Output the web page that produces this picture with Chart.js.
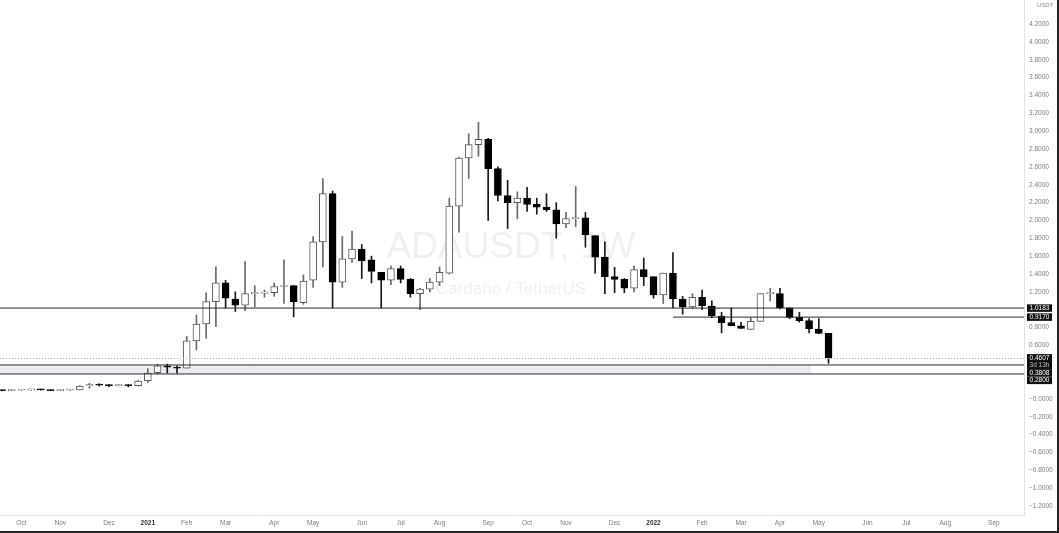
<!DOCTYPE html>
<html>
<head>
<meta charset="utf-8">
<title>ADAUSDT 1W</title>
<script src="https://cdn.jsdelivr.net/npm/chart.js@4.4.1/dist/chart.umd.min.js"></script>
<style>
html, body { margin: 0; padding: 0; background: #fff; }
#wrap { width: 1057px; height: 531px; border-right: 2px solid #222; border-bottom: 2px solid #222; }
</style>
</head>
<body>
<div id="wrap"><canvas id="chart" width="1057" height="531"></canvas></div>
<script>
// weekly candles, first week starts 2020-09-21 (index 0)
const open = [0.097, 0.093, 0.100, 0.101, 0.104, 0.101, 0.094, 0.100, 0.101, 0.145,
  0.160, 0.155, 0.150, 0.156, 0.150, 0.205, 0.295, 0.370, 0.350, 0.345,
  0.650, 0.840, 1.090, 1.300, 1.120, 1.050, 1.180, 1.185, 1.190, 1.260,
  1.270, 1.080, 1.330, 1.760, 2.300, 1.310, 1.570, 1.680, 1.560, 1.420,
  1.330, 1.460, 1.340, 1.180, 1.230, 1.310, 1.410, 2.160, 2.700, 2.850,
  2.910, 2.580, 2.280, 2.200, 2.250, 2.180, 2.150, 2.120, 1.960, 2.020,
  2.030, 1.830, 1.590, 1.370, 1.340, 1.240, 1.450, 1.370, 1.165, 1.410,
  1.120, 1.030, 1.140, 1.040, 0.930, 0.855, 0.820, 0.780, 0.870, 1.180,
  1.180, 1.020, 0.915, 0.877, 0.780, 0.735];
const high = [0.102, 0.104, 0.106, 0.108, 0.110, 0.104, 0.103, 0.106, 0.150, 0.176,
  0.170, 0.162, 0.162, 0.162, 0.210, 0.340, 0.390, 0.390, 0.370, 0.700,
  0.940, 1.190, 1.480, 1.330, 1.200, 1.540, 1.270, 1.220, 1.300, 1.560,
  1.270, 1.390, 1.820, 2.470, 2.330, 1.820, 1.880, 1.730, 1.600, 1.420,
  1.490, 1.490, 1.350, 1.240, 1.350, 1.480, 2.250, 2.710, 2.970, 3.100,
  2.920, 2.600, 2.450, 2.320, 2.370, 2.250, 2.300, 2.200, 2.090, 2.380,
  2.090, 1.830, 1.760, 1.475, 1.350, 1.490, 1.580, 1.370, 1.410, 1.640,
  1.150, 1.180, 1.220, 1.100, 0.970, 1.020, 0.860, 0.910, 1.180, 1.240,
  1.240, 1.020, 0.970, 0.900, 0.900, 0.735];
const low = [0.090, 0.090, 0.096, 0.097, 0.098, 0.093, 0.091, 0.097, 0.100, 0.120,
  0.145, 0.138, 0.145, 0.135, 0.145, 0.185, 0.280, 0.290, 0.290, 0.345,
  0.550, 0.680, 0.810, 1.020, 0.980, 0.990, 1.030, 1.140, 1.150, 1.070,
  0.920, 1.060, 1.250, 1.480, 1.020, 1.250, 1.530, 1.350, 1.300, 1.020,
  1.280, 1.300, 1.140, 1.000, 1.200, 1.270, 1.400, 1.870, 2.470, 2.720,
  2.000, 2.220, 1.910, 2.020, 2.100, 2.070, 2.100, 1.800, 1.920, 1.930,
  1.700, 1.410, 1.180, 1.190, 1.190, 1.200, 1.270, 1.130, 1.070, 1.020,
  0.950, 1.010, 1.000, 0.910, 0.740, 0.820, 0.790, 0.780, 0.870, 1.100,
  1.010, 0.900, 0.860, 0.740, 0.730, 0.400];
const close = [0.093, 0.100, 0.101, 0.104, 0.101, 0.094, 0.100, 0.101, 0.145, 0.160,
  0.155, 0.150, 0.156, 0.150, 0.200, 0.290, 0.370, 0.355, 0.345, 0.650,
  0.840, 1.090, 1.300, 1.130, 1.050, 1.180, 1.185, 1.190, 1.260, 1.270,
  1.090, 1.320, 1.760, 2.300, 1.310, 1.570, 1.680, 1.550, 1.430, 1.330,
  1.460, 1.340, 1.180, 1.230, 1.310, 1.420, 2.160, 2.700, 2.850, 2.910,
  2.580, 2.280, 2.200, 2.250, 2.180, 2.150, 2.120, 1.960, 2.020, 2.030,
  1.840, 1.590, 1.370, 1.340, 1.240, 1.450, 1.370, 1.165, 1.410, 1.120,
  1.030, 1.140, 1.045, 0.930, 0.855, 0.820, 0.790, 0.870, 1.180, 1.185,
  1.020, 0.915, 0.877, 0.785, 0.735, 0.4607];

// time axis labels (week index of first bar in each month)
const tickWeeks = [2, 6, 11, 15, 19, 23, 28, 32, 37, 41, 45, 50, 54, 58, 63, 67, 72, 76, 80, 84, 89, 93, 97, 102];
const tickLabels = ['Oct', 'Nov', 'Dec', '2021', 'Feb', 'Mar', 'Apr', 'May', 'Jun', 'Jul', 'Aug', 'Sep',
  'Oct', 'Nov', 'Dec', '2022', 'Feb', 'Mar', 'Apr', 'May', 'Jun', 'Jul', 'Aug', 'Sep'];
const priceTicks = [4.2, 4.0, 3.8, 3.6, 3.4, 3.2, 3.0, 2.8, 2.6, 2.4, 2.2, 2.0, 1.8, 1.6, 1.4, 1.2, 1.0,
  0.8, 0.6, 0.4, 0.2, 0, -0.2, -0.4, -0.6, -0.8, -1.0, -1.2];

// horizontal levels drawn on the chart
const levelPrices = [1.0183, 0.917, 0.3808, 0.28];
const levelStartWeek = [-1, 69, -1, -1];
const zonePrices = [0.3808, 0.28];
const zoneEndWeek = 83.2;
const lastPrice = 0.4607;
const countdown = '3d 13h';

const isUp = close.map((c, i) => c >= open[i]);
const weekIdx = open.map((_, i) => i);

const levelSets = levelPrices.map((p, i) => ({
  type: 'line',
  data: [{ x: levelStartWeek[i], y: p }, { x: 110, y: p }],
  borderColor: '#2b2b2b',
  borderWidth: 1,
  pointRadius: 0,
  fill: false,
  order: 0
}));

const watermark = {
  id: 'watermark',
  beforeDatasetsDraw(chart) {
    const c = chart.ctx;
    c.save();
    c.fillStyle = '#f0f0f2';
    c.textAlign = 'center';
    c.font = '37px "Liberation Sans", Arial, sans-serif';
    c.fillText('ADAUSDT, 1W', 511, 258);
    c.font = '17px "Liberation Sans", Arial, sans-serif';
    c.fillText('Cardano / TetherUS', 511, 294);
    c.restore();
  }
};

const priceTags = {
  id: 'priceTags',
  afterDraw(chart) {
    const c = chart.ctx;
    const ys = chart.scales.y;
    const left = chart.chartArea.right + 3;
    const w = 25;
    const tags = [
      { p: levelPrices[0], lines: ['1.0183'] },
      { p: levelPrices[1], lines: ['0.9170'] },
      { p: lastPrice, lines: ['0.4607', countdown] },
      { p: levelPrices[2], lines: ['0.3808'] },
      { p: levelPrices[3], lines: ['0.2800'] }
    ];
    // dotted last price line
    c.save();
    c.strokeStyle = '#b5b5b5';
    c.setLineDash([1, 2]);
    c.lineWidth = 1;
    const ly = Math.round(ys.getPixelForValue(lastPrice)) + 0.5;
    c.beginPath();
    c.moveTo(0, ly);
    c.lineTo(chart.chartArea.right, ly);
    c.stroke();
    c.setLineDash([]);

    let prevBottom = -100;
    c.font = '6.5px "Liberation Sans", Arial, sans-serif';
    c.textAlign = 'center';
    c.textBaseline = 'middle';
    tags.forEach(t => {
      const h = 7.5 * t.lines.length;
      let top = ys.getPixelForValue(t.p) - 3.75;
      if (top < prevBottom) top = prevBottom;
      c.fillStyle = '#111';
      c.fillRect(left, top, w, h);
      t.lines.forEach((s, j) => {
        c.fillStyle = j === 0 ? '#fff' : '#bbb';
        c.fillText(s, left + w / 2, top + 3.9 + j * 7.5);
      });
      prevBottom = top + h;
    });

    c.fillStyle = '#888';
    c.textAlign = 'left';
    c.font = '6px "Liberation Sans", Arial, sans-serif';
    c.fillText('USDT', 1037, 5);
    c.restore();
  }
};

const ctx = document.getElementById('chart').getContext('2d');
new Chart(ctx, {
  type: 'bar',
  data: {
    datasets: [
      {
        type: 'line',
        data: [{ x: -1, y: zonePrices[0] }, { x: zoneEndWeek, y: zonePrices[0] }],
        borderWidth: 0,
        pointRadius: 0,
        backgroundColor: '#ebecf0',
        fill: '+1',
        order: 4
      },
      {
        type: 'line',
        data: [{ x: -1, y: zonePrices[1] }, { x: zoneEndWeek, y: zonePrices[1] }],
        borderWidth: 0,
        pointRadius: 0,
        fill: false,
        order: 4
      },
      {
        label: 'wick',
        data: weekIdx.map(i => ({ x: i, y: [low[i], high[i]] })),
        backgroundColor: isUp.map(u => u ? '#6a6a6a' : '#1a1a1a'),
        barThickness: 1,
        grouped: false,
        order: 2
      },
      {
        label: 'body',
        data: weekIdx.map(i => ({ x: i, y: [open[i], close[i]] })),
        backgroundColor: isUp.map(u => u ? '#ffffff' : '#000000'),
        borderColor: isUp.map(u => u ? '#5a5a5a' : '#000000'),
        borderWidth: 1,
        borderSkipped: false,
        barThickness: 7,
        minBarLength: 1,
        grouped: false,
        order: 1
      },
      ...levelSets
    ]
  },
  options: {
    responsive: false,
    animation: false,
    layout: { padding: 0 },
    plugins: {
      legend: { display: false },
      tooltip: { enabled: false }
    },
    scales: {
      x: {
        type: 'linear',
        min: -0.2,
        max: 105.1,
        offset: false,
        grid: { display: false, drawTicks: false },
        border: { display: true, color: '#e3e3e6' },
        afterBuildTicks: scale => { scale.ticks = tickWeeks.map(v => ({ value: v })); },
        afterFit: scale => { scale.height = 16; scale.paddingLeft = 0; scale.paddingRight = 0; },
        ticks: {
          autoSkip: false,
          maxRotation: 0,
          padding: 4,
          color: ctx => (ctx.index === 3 || ctx.index === 15) ? '#333' : '#7d7d7d',
          font: ctx => ({
            size: 6.5,
            family: '"Liberation Sans", Arial, sans-serif',
            weight: (ctx.index === 3 || ctx.index === 15) ? 'bold' : 'normal'
          }),
          callback: (v, i) => tickLabels[i]
        }
      },
      y: {
        type: 'linear',
        position: 'right',
        min: -1.30,
        max: 4.47,
        grid: { display: false, drawTicks: false },
        border: { display: true, color: '#e3e3e6' },
        afterBuildTicks: scale => { scale.ticks = priceTicks.map(v => ({ value: v })); },
        afterFit: scale => { scale.width = 33; scale.paddingTop = 0; scale.paddingBottom = 0; },
        ticks: {
          padding: 5,
          color: '#7d7d7d',
          font: { size: 6.5, family: '"Liberation Sans", Arial, sans-serif' },
          callback: v => v <= 0 ? '\u2212' + Math.abs(v).toFixed(4) : v.toFixed(4)
        }
      }
    }
  },
  plugins: [watermark, priceTags]
});
</script>
</body>
</html>
